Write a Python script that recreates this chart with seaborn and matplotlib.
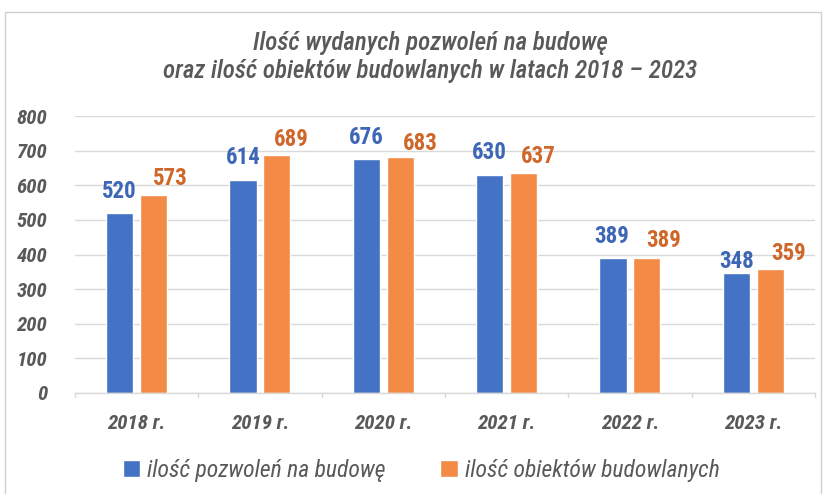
import matplotlib
matplotlib.use("Agg")
import matplotlib.pyplot as plt
import seaborn as sns
import pandas as pd
from matplotlib.patches import Rectangle

years = ["2018 r.", "2019 r.", "2020 r.", "2021 r.", "2022 r.", "2023 r."]
permits = [520, 614, 676, 630, 389, 348]
objects = [573, 689, 683, 637, 389, 359]
series_names = ["ilość pozwoleń na budowę", "ilość obiektów budowlanych"]
title = "Ilość wydanych pozwoleń na budowę\noraz ilość obiektów budowlanych w latach 2018 – 2023"
yticks = [0, 100, 200, 300, 400, 500, 600, 700, 800]

# label placement (pixel offsets from bar top-centre), as in the original
label_dx = [[0, 0, 0, 0, -1, 0], [17, 14, 20, 15, 17, 18]]
label_dy = [[15, 16, 15, 16, 15, 5], [10, 9, 7, 10, 11, 9]]

df = pd.DataFrame({
    "rok": years * 2,
    "wartość": permits + objects,
    "seria": [series_names[0]] * len(years) + [series_names[1]] * len(years),
})

sns.set_theme(style="white")
plt.rcParams["font.family"] = ["Roboto Condensed", "Liberation Sans", "DejaVu Sans"]

bar_colors = ["#4472C4", "#F38A45"]
label_colors = ["#3D67B6", "#D0672A"]
gray = "#595959"

fig = plt.figure(figsize=(8.24, 4.94), dpi=100)
ax = fig.add_axes([0.091, 0.2045, 0.898, 0.5605])

sns.barplot(data=df, x="rok", y="wartość", hue="seria", palette=bar_colors,
            saturation=1, width=0.55, gap=0.2, ax=ax, legend=True)

ax.set_ylim(0, 800)
ax.set_xlim(-0.5, len(years) - 0.5)
ax.set_yticks(yticks)
ax.set_yticklabels([str(v) for v in yticks], fontsize=15, fontstyle="italic",
                   fontweight="bold", color=gray)
ax.set_xticks(range(len(years)))
ax.set_xticklabels(years, fontsize=15, fontstyle="italic", fontweight="bold", color=gray)
ax.tick_params(axis="y", length=0, pad=20)
ax.tick_params(axis="x", length=0, pad=15)
ax.set_xlabel("")
ax.set_ylabel("")
ax.grid(axis="y", color="#D9D9D9", linewidth=1)
ax.set_axisbelow(True)
for s in ["top", "right", "left"]:
    ax.spines[s].set_visible(False)
ax.spines["bottom"].set_color("#D9D9D9")
ax.spines["bottom"].set_linewidth(1)
for b in [i - 0.5 for i in range(len(years) + 1)]:
    ax.plot([b, b], [0, -12], color="#D9D9D9", lw=1, clip_on=False)

px = 72 / fig.dpi
for si, (cont, col) in enumerate(zip(ax.containers, label_colors)):
    for bi, bar in enumerate(cont.patches):
        xc = bar.get_x() + bar.get_width() / 2
        h = bar.get_height()
        ax.annotate(f"{h:.0f}", (xc, h),
                    xytext=(label_dx[si][bi] * px, label_dy[si][bi] * px),
                    textcoords="offset points", ha="center", va="baseline",
                    fontsize=16.5, fontweight="bold", color=col)

fig.text(0.522, 0.885, title, ha="center", va="center", fontsize=18,
         fontstyle="italic", fontweight=500, color=gray, linespacing=1.2)

leg = ax.legend(loc="center", bbox_to_anchor=(0.468, -0.28), ncol=2, frameon=False,
                handlelength=0.75, handleheight=0.75, handletextpad=0.3,
                columnspacing=2.3, prop={"style": "italic", "size": 17})
for t in leg.get_texts():
    t.set_color(gray)

fig.patches.append(Rectangle((0.006, -0.01), 0.99, 0.985, transform=fig.transFigure,
                             fill=False, edgecolor="#D0D0D0", linewidth=1))

fig.savefig("out.png", dpi=100)
